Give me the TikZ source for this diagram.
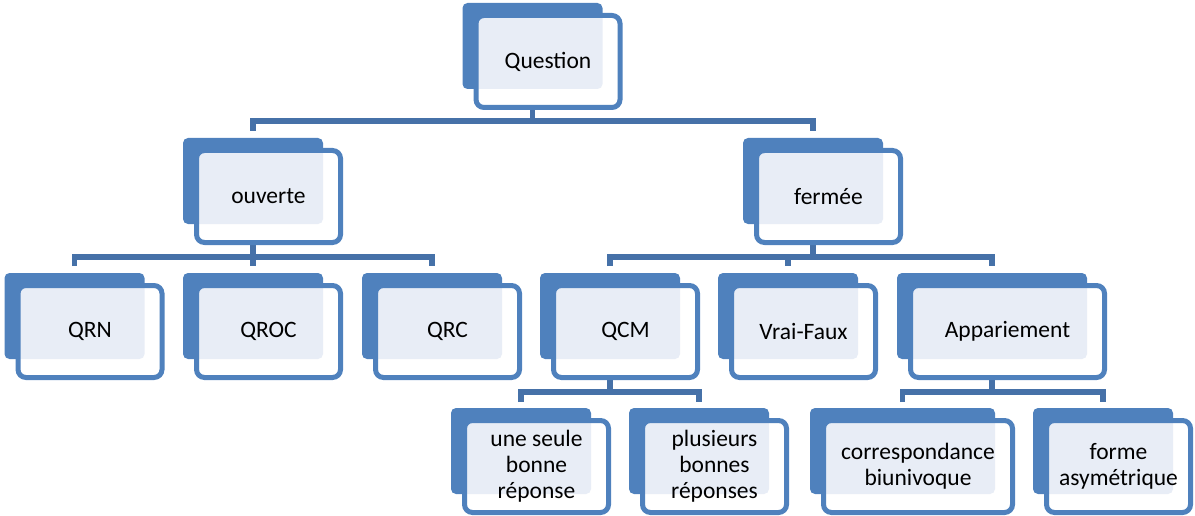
\documentclass[tikz,border=0pt]{standalone}
\usepackage{fontspec}
\setmainfont{Carlito}
\usetikzlibrary{backgrounds}
\definecolor{accent}{HTML}{4F81BD}
\definecolor{connc}{HTML}{4671A8}
\definecolor{dotc}{HTML}{E8EDF6}
\tikzset{
  backbox/.style={fill=accent, draw=none, rounded corners=5pt, inner sep=0pt, outer sep=0pt},
  frontbox/.style={draw=accent, line width=5pt, rounded corners=8pt, inner sep=0pt, outer sep=0pt,
     align=center, text=black, font=\fontsize{23.5}{26}\selectfont},
  conn/.style={draw=connc, line width=5.5pt, line join=miter},
}
% name, cx, ty, hw, text
\newcommand\qbox[5]{%
  \node[backbox, minimum width={2*#4}, minimum height=86] (#1-back) at (#2, #3+43) {};
  \fill[white, rounded corners=8pt] (#2-#4+13.5, #3+12.5) rectangle (#2+#4+17.5, #3+104.5);
  \begin{scope}
    \clip[rounded corners=5pt] (#2-#4, #3) rectangle (#2+#4, #3+86);
    \fill[dotc, rounded corners=6pt] (#2-#4+15.5, #3+14.5) rectangle (#2+#4+15.5, #3+102.5);
  \end{scope}
  \node[frontbox, minimum width={2*#4+4}, minimum height=92] (#1) at (#2+15.5, #3+58.5) {#5};
}
\begin{document}
\begin{tikzpicture}[x=1pt, y=-1pt]
\useasboundingbox (0,0) rectangle (1195,516);
\coordinate (bar1) at (0,121);
\coordinate (bar2) at (0,257);
\coordinate (bar3) at (0,392);

\qbox{q}{532.5}{3}{70}{Question}
\qbox{ouv}{253}{138}{70}{ouverte}
\qbox{fer}{813}{138}{70}{fermée}
\qbox{qrn}{74.5}{273}{70}{QRN}
\qbox{qroc}{253}{273}{70}{QROC}
\qbox{qrc}{432}{273}{70}{QRC}
\qbox{qcm}{610}{273}{70}{QCM}
\qbox{vf}{788}{273}{70}{Vrai-Faux}
\qbox{app}{992}{273}{95}{Appariement}
\qbox{une}{521}{408}{70}{une seule\\bonne\\réponse}
\qbox{plu}{699}{408}{70}{plusieurs\\bonnes\\réponses}
\qbox{cor}{902.5}{408}{92.5}{correspondance\\biunivoque}
\qbox{asy}{1103}{408}{70}{forme\\asymétrique}

\begin{scope}[on background layer]
  % level 0 -> 1
  \draw[conn] (q-back |- q.south) -- (q-back |- bar1);
  \draw[conn] ([yshift=7pt]ouv-back.north) -- (ouv-back |- bar1) -- (fer-back |- bar1) -- ([yshift=7pt]fer-back.north);
  % ouverte -> children
  \draw[conn] (ouv-back |- ouv.south) -- (ouv-back |- bar2);
  \draw[conn] ([yshift=7pt]qrn-back.north) -- (qrn-back |- bar2) -- (qrc-back |- bar2) -- ([yshift=7pt]qrc-back.north);
  \draw[conn] (qroc-back |- bar2) -- ([yshift=7pt]qroc-back.north);
  % fermee -> children
  \draw[conn] (fer-back |- fer.south) -- (fer-back |- bar2);
  \draw[conn] ([yshift=7pt]qcm-back.north) -- (qcm-back |- bar2) -- (app-back |- bar2) -- ([yshift=7pt]app-back.north);
  \draw[conn] (vf-back |- bar2) -- ([yshift=7pt]vf-back.north);
  % QCM -> children
  \draw[conn] (qcm-back |- qcm.south) -- (qcm-back |- bar3);
  \draw[conn] ([yshift=6pt]une-back.north) -- (une-back |- bar3) -- (plu-back |- bar3) -- ([yshift=6pt]plu-back.north);
  % Appariement -> children
  \draw[conn] (app-back |- app.south) -- (app-back |- bar3);
  \draw[conn] ([yshift=6pt]cor-back.north) -- (cor-back |- bar3) -- (asy-back |- bar3) -- ([yshift=6pt]asy-back.north);
\end{scope}
\end{tikzpicture}
\end{document}
